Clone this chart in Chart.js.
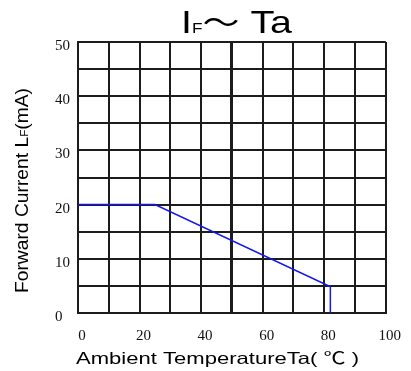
<!DOCTYPE html>
<html>
<head>
<meta charset="utf-8">
<script src="https://cdn.jsdelivr.net/npm/chart.js@4"></script>
<style>
  html, body { margin: 0; padding: 0; background: #fff; }
  #wrap { width: 411px; height: 371px; }
</style>
</head>
<body>
<div id="wrap"><canvas id="ifChart" width="411" height="371"></canvas></div>
<script>
// Derating curve: forward current vs ambient temperature
const temperature = [0, 25, 81.5, 82, 82];
const forwardCurrent = [20, 20, 5, 5, 0];
const xTickLabels = [0, 20, 40, 60, 80, 100];
const yTickLabels = [0, 10, 20, 30, 40, 50];

const gridColor = '#1c1c1c';
const sansFont = '"Liberation Sans", Arial, sans-serif';

// draw a row of text pieces (used for the subscripts), stretched to a given width
function drawRuns(ctx, runs, x, y, width, angle) {
    ctx.save();
    ctx.translate(x, y);
    if (angle) ctx.rotate(angle);
    let total = 0;
    runs.forEach(r => {
        ctx.font = r.size + 'px ' + (r.family || sansFont);
        r.w = ctx.measureText(r.text).width;
        total += r.w;
    });
    ctx.scale(width / total, 1);
    ctx.fillStyle = '#000';
    ctx.textAlign = 'left';
    ctx.textBaseline = 'alphabetic';
    let cx = 0;
    runs.forEach(r => {
        ctx.font = r.size + 'px ' + (r.family || sansFont);
        ctx.fillText(r.text, cx, 0);
        cx += r.w;
    });
    ctx.restore();
}

const titlesPlugin = {
    id: 'titles',
    afterDraw(chart) {
        const ctx = chart.ctx;
        // chart title
        drawRuns(ctx, [
            { text: 'I', size: 32 },
            { text: 'F', size: 14 },
            { text: '～', size: 30, family: '"Noto Sans CJK SC", sans-serif' },
            { text: ' Ta', size: 32 }
        ], 181, 33, 111);
        // y axis title
        drawRuns(ctx, [
            { text: 'Forward Current L', size: 18 },
            { text: 'F', size: 11 },
            { text: '(mA)', size: 18 }
        ], 28, 293, 205, -Math.PI / 2);
        // x axis title
        drawRuns(ctx, [
            { text: 'Ambient TemperatureTa( ', size: 16.5 },
            { text: '℃', size: 16.5, family: '"Noto Sans CJK SC", sans-serif' },
            { text: ' )', size: 16.5 }
        ], 76, 364, 283);
    }
};

const points = temperature.map((t, i) => ({ x: t, y: forwardCurrent[i] }));

new Chart(document.getElementById('ifChart'), {
    type: 'line',
    data: {
        datasets: [{
            data: points,
            borderColor: '#1515f0',
            borderWidth: 1.5,
            pointRadius: 0,
            tension: 0,
            fill: false
        }]
    },
    options: {
        responsive: false,
        animation: false,
        layout: { padding: { left: 55, top: 42, right: 21, bottom: 0 } },
        plugins: {
            legend: { display: false },
            tooltip: { enabled: false },
            title: { display: false }
        },
        scales: {
            x: {
                type: 'linear',
                min: 0,
                max: 100,
                afterFit: s => { s.height = 58; },
                border: { display: true, color: gridColor, width: 2 },
                grid: {
                    color: gridColor,
                    lineWidth: c => c.tick && c.tick.value === 50 ? 3 : 2,
                    drawTicks: false
                },
                ticks: {
                    stepSize: 10,
                    autoSkip: false,
                    maxRotation: 0,
                    padding: 14,
                    labelOffset: 4,
                    color: '#111',
                    font: { family: '"Liberation Serif", "Times New Roman", serif', size: 15 },
                    callback: v => xTickLabels.includes(v) ? String(v) : ''
                }
            },
            y: {
                min: 0,
                max: 50,
                afterFit: s => { s.width = 23; },
                border: { display: true, color: gridColor, width: 2 },
                grid: {
                    color: gridColor,
                    lineWidth: 2,
                    drawTicks: false
                },
                ticks: {
                    stepSize: 5,
                    autoSkip: false,
                    crossAlign: 'far',
                    padding: 4,
                    labelOffset: 4,
                    color: '#111',
                    font: { family: '"Liberation Serif", "Times New Roman", serif', size: 15 },
                    callback: v => yTickLabels.includes(v) ? String(v) : ''
                }
            }
        }
    },
    plugins: [titlesPlugin]
});
</script>
</body>
</html>
